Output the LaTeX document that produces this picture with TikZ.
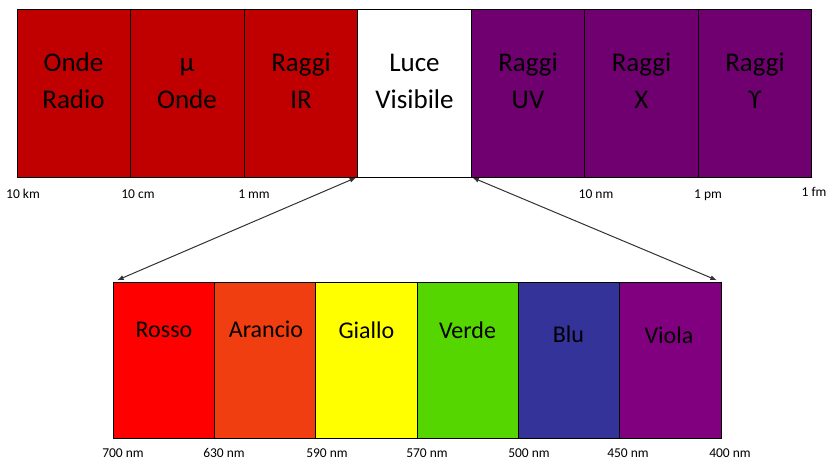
\documentclass[tikz,border=0pt]{standalone}
\usepackage{fontspec}
\setmainfont{Carlito}
\usetikzlibrary{arrows.meta}
\definecolor{topred}{RGB}{192,0,0}
\definecolor{toppurple}{RGB}{112,0,112}
\definecolor{cRosso}{RGB}{255,0,0}
\definecolor{cArancio}{RGB}{240,62,16}
\definecolor{cGiallo}{RGB}{255,255,0}
\definecolor{cVerde}{RGB}{86,214,0}
\definecolor{cBlu}{RGB}{51,51,153}
\definecolor{cViola}{RGB}{128,0,128}
\definecolor{arrgray}{RGB}{50,50,50}
\begin{document}
\begin{tikzpicture}[x=1pt,y=-1pt,
  topcell/.style={draw=black, line width=0.8pt, minimum width=113.5pt, minimum height=168pt, inner sep=0pt, outer sep=0pt, anchor=north west},
  botcell/.style={draw=black, line width=0.8pt, minimum width=101.33pt, minimum height=156pt, inner sep=0pt, outer sep=0pt, anchor=north west},
  toplbl/.style={anchor=base, align=center, inner sep=0pt, font=\fontsize{27}{37}\selectfont},
  botlbl/.style={anchor=base, inner sep=0pt, font=\fontsize{24}{28}\selectfont},
  tick/.style={anchor=base, inner sep=0pt, font=\fontsize{13.5}{15}\selectfont},
  arr/.style={arrgray, line width=1pt, {Latex[length=6.5pt,width=5pt]}-{Latex[length=6.5pt,width=5pt]}}
]
\useasboundingbox (0,0) rectangle (828,460);
% top band
\node[topcell, fill=topred] (c1) at (17,9) {};
\node[topcell, fill=topred] (c2) at (130.5,9) {};
\node[topcell, fill=topred] (c3) at (244,9) {};
\node[topcell, fill=white] (c4) at (357.5,9) {};
\node[topcell, fill=toppurple] (c5) at (471,9) {};
\node[topcell, fill=toppurple] (c6) at (584.5,9) {};
\node[topcell, fill=toppurple] (c7) at (698,9) {};
\node[toplbl] (t1) at (73.5,109) {Onde\\Radio};
\node[toplbl] (t2) at (187,109) {μ\\Onde};
\node[toplbl] (t3) at (301,109) {Raggi\\IR};
\node[toplbl] (t4) at (414.5,109) {Luce\\Visibile};
\node[toplbl] (t5) at (528,109) {Raggi\\UV};
\node[toplbl] (t6) at (641.5,109) {Raggi\\X};
\node[toplbl] (t7) at (755,109) {Raggi\\ϒ};
% top ticks
\node[tick] (k1) at (23,198) {10 km};
\node[tick] (k2) at (138,198) {10 cm};
\node[tick] (k3) at (254,198) {1 mm};
\node[tick] (k4) at (596,198) {10 nm};
\node[tick] (k5) at (708,198) {1 pm};
\node[tick] (k6) at (814,196) {1 fm};
% bottom band
\node[botcell, fill=cRosso] (b1) at (113,282) {};
\node[botcell, fill=cArancio] (b2) at (214.33,282) {};
\node[botcell, fill=cGiallo] (b3) at (315.67,282) {};
\node[botcell, fill=cVerde] (b4) at (417,282) {};
\node[botcell, fill=cBlu] (b5) at (518.33,282) {};
\node[botcell, fill=cViola] (b6) at (619.67,282) {};
\node[botlbl] (l1) at (164,337) {Rosso};
\node[botlbl] (l2) at (266,337) {Arancio};
\node[botlbl] (l3) at (366.5,338) {Giallo};
\node[botlbl] (l4) at (467.5,338) {Verde};
\node[botlbl] (l5) at (568.5,342) {Blu};
\node[botlbl] (l6) at (669,343) {Viola};
% bottom ticks
\node[tick] (n1) at (123,457) {700 nm};
\node[tick] (n2) at (224,457) {630 nm};
\node[tick] (n3) at (327,457) {590 nm};
\node[tick] (n4) at (427,457) {570 nm};
\node[tick] (n5) at (529,457) {500 nm};
\node[tick] (n6) at (628,457) {450 nm};
\node[tick] (n7) at (730,457) {400 nm};
% arrows
\draw[arr, shorten <=1.5pt, shorten >=4.5pt] (c4.south west) -- (b1.north west);
\draw[arr, shorten <=1.5pt, shorten >=4.5pt] (c4.south east) -- (b6.north east);
\end{tikzpicture}
\end{document}
